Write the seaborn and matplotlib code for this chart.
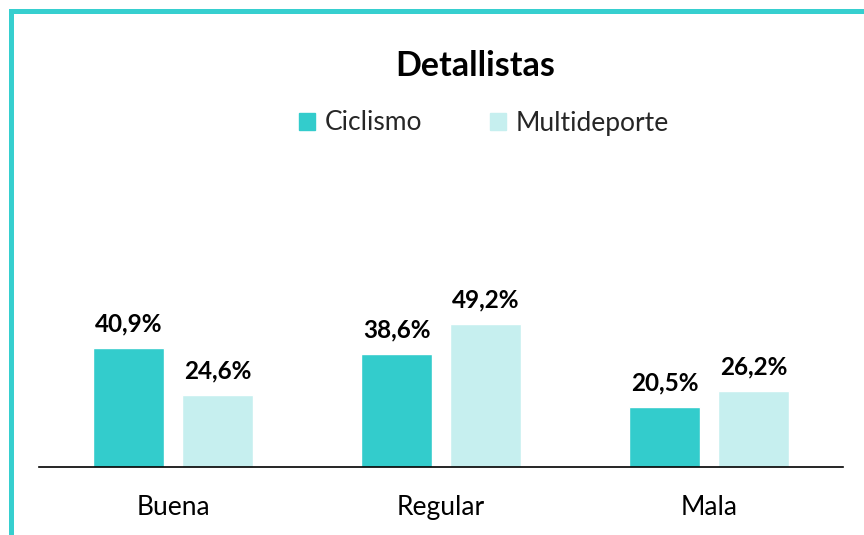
import matplotlib
matplotlib.use("Agg")
import matplotlib.pyplot as plt
import seaborn as sns
import pandas as pd
from matplotlib.patches import Rectangle

categories = ["Buena", "Regular", "Mala"]
series = ["Ciclismo", "Multideporte"]
ciclismo = [40.9, 38.6, 20.5]
multideporte = [24.6, 49.2, 26.2]
colors = ["#33CCCC", "#C6EFEF"]

df = pd.DataFrame({
    "cat": categories * 2,
    "serie": [series[0]] * 3 + [series[1]] * 3,
    "val": ciclismo + multideporte,
})

sns.set_theme(style="white")
plt.rcParams["font.family"] = ["Lato", "DejaVu Sans"]

W, H = 864, 535
fig = plt.figure(figsize=(W / 100, H / 100), dpi=100)
ax = fig.add_axes([39 / W, (H - 467) / H, (843 - 39) / W, (467 - 292) / H])

sns.barplot(data=df, x="cat", y="val", hue="serie", palette=colors,
            width=0.664, gap=0.2, ax=ax, saturation=1, legend=False)

ax.set_ylim(0, 60)
ax.set_xlim(-0.5, 2.5)
ax.set_xlabel("")
ax.set_ylabel("")
ax.set_yticks([])
for s in ["left", "right", "top"]:
    ax.spines[s].set_visible(False)
ax.spines["bottom"].set_color("black")
ax.spines["bottom"].set_linewidth(1.2)
ax.tick_params(axis="x", length=0, labelsize=19, pad=20, colors="black")

for cont in ax.containers:
    ax.bar_label(cont, labels=[f"{v:.1f}%".replace(".", ",") for v in cont.datavalues],
                 padding=9, fontsize=17.5, fontweight="bold", color="black")

fig.text(475 / W, 1 - 66 / H, "Detallistas", ha="center", va="center",
         fontsize=24.5, fontweight="bold", color="black")

# legend
handles = [Rectangle((0, 0), 1, 1, color=c) for c in colors]
fig.legend(handles, series, loc="center", bbox_to_anchor=(484 / W, 1 - 123 / H),
           ncol=2, frameon=False, fontsize=19, handlelength=0.6, handleheight=0.6,
           handletextpad=0.35, columnspacing=2.6)

# border (only left and top edges visible)
fig.patches.append(Rectangle((10.5, -20), W + 20, H + 20 - 10.5, transform=None,
                             fill=False, edgecolor="#36CFCF", linewidth=3.6,
                             figure=fig))

fig.savefig("out.png", dpi=100)
